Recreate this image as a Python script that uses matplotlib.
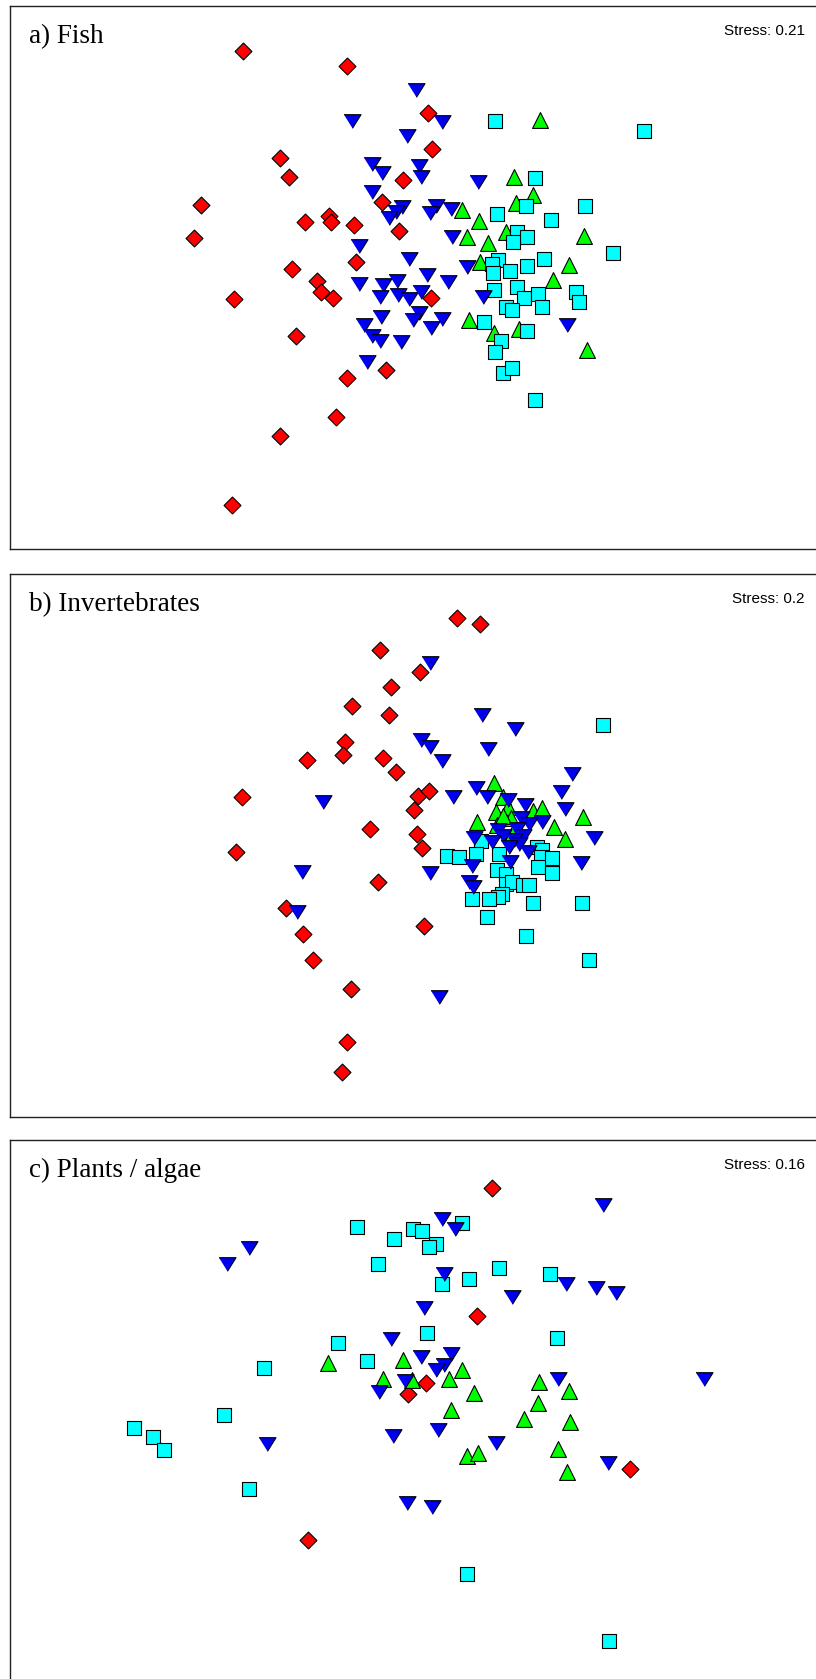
import numpy as np
import matplotlib
matplotlib.use("Agg")
import matplotlib.pyplot as plt

# NMDS ordination scores (axis 1, axis 2) for each group in each panel
# a) Fish
fish_red = [(-1.57, 2.26), (-0.53, 2.11), (0.28, 1.64), (0.32, 1.28), (-1.20, 1.19),
            (-1.11, 1.00), (0.03, 0.97), (-1.99, 0.72), (-0.18, 0.75), (-0.95, 0.55),
            (-0.71, 0.61), (-0.69, 0.55), (-0.46, 0.52), (-0.01, 0.47), (-2.06, 0.39),
            (-0.44, 0.16), (-1.08, 0.09), (-0.83, -0.03), (-0.79, -0.14), (-0.67, -0.20),
            (0.31, -0.20), (-1.66, -0.21), (-1.04, -0.58), (-0.14, -0.92), (-0.53, -1.00),
            (-0.64, -1.39), (-1.20, -1.58), (-1.68, -2.27)]
fish_blue = [(0.16, 1.87), (-0.48, 1.56), (0.42, 1.55), (0.07, 1.41), (-0.28, 1.13),
             (0.19, 1.11), (-0.18, 1.04), (0.21, 1.00), (-0.28, 0.85), (0.02, 0.70),
             (0.36, 0.71), (0.51, 0.68), (0.30, 0.64), (-0.04, 0.65), (-0.11, 0.59),
             (0.52, 0.40), (-0.41, 0.32), (0.09, 0.19), (0.27, 0.03), (0.48, -0.04),
             (-0.41, -0.06), (-0.17, -0.07), (-0.03, -0.03), (-0.20, -0.19), (-0.02, -0.17),
             (0.09, -0.21), (0.21, -0.14), (0.19, -0.35), (0.42, -0.41), (-0.19, -0.39),
             (0.13, -0.42), (0.31, -0.50), (-0.36, -0.47), (-0.28, -0.58), (-0.20, -0.63),
             (0.01, -0.64), (-0.33, -0.84), (0.78, 0.95), (0.67, 0.11), (0.83, -0.19),
             (1.67, -0.47)]
fish_green = [(1.40, 1.57), (1.14, 1.00), (1.33, 0.82), (1.16, 0.74), (0.62, 0.67),
              (0.79, 0.56), (1.06, 0.45), (0.67, 0.41), (0.88, 0.35), (1.84, 0.42),
              (0.80, 0.16), (1.69, 0.13), (1.53, -0.02), (0.69, -0.42), (0.94, -0.55),
              (1.19, -0.51), (1.87, -0.72)]
fish_cyan = [(0.95, 1.56), (2.44, 1.46), (1.35, 0.99), (1.26, 0.71), (1.85, 0.71),
             (0.97, 0.63), (1.51, 0.57), (1.17, 0.45), (1.27, 0.40), (1.13, 0.36),
             (2.13, 0.25), (1.44, 0.19), (0.98, 0.18), (0.92, 0.14), (0.93, 0.05),
             (1.10, 0.07), (1.27, 0.12), (0.94, -0.12), (1.17, -0.09), (1.24, -0.20),
             (1.38, -0.16), (1.42, -0.29), (1.76, -0.14), (1.79, -0.24), (1.06, -0.29),
             (1.12, -0.32), (0.84, -0.44), (1.27, -0.53), (1.01, -0.63), (0.95, -0.74),
             (1.03, -0.95), (1.12, -0.90), (1.35, -1.22)]

# b) Invertebrates
inv_red = [(0.57, 2.27), (0.80, 2.21), (-0.20, 1.95), (0.20, 1.73), (-0.09, 1.58),
           (-0.48, 1.39), (-0.11, 1.30), (-0.55, 1.03), (-0.57, 0.90), (-0.93, 0.85),
           (-0.17, 0.87), (-0.04, 0.73), (-1.58, 0.48), (0.18, 0.49), (0.29, 0.54),
           (0.14, 0.35), (-0.30, 0.16), (0.17, 0.11), (0.22, -0.03), (-1.64, -0.07),
           (-0.22, -0.37), (-1.14, -0.63), (0.24, -0.81), (-0.97, -0.89), (-0.87, -1.15),
           (-0.49, -1.44), (-0.53, -1.97), (-0.58, -2.27)]
inv_blue = [(0.30, 1.82), (0.21, 1.05), (0.30, 0.98), (0.42, 0.84), (0.53, 0.48),
            (-0.77, 0.43), (-0.98, -0.27), (0.30, -0.28), (-1.03, -0.67), (0.39, -1.52),
            (0.82, 1.30), (1.15, 1.16), (0.88, 0.96), (1.72, 0.71), (0.76, 0.57),
            (0.87, 0.48), (1.61, 0.53), (1.08, 0.45), (1.25, 0.40), (1.65, 0.36),
            (1.21, 0.27), (1.42, 0.23), (1.29, 0.21), (0.98, 0.15), (1.17, 0.16),
            (1.03, 0.09), (1.23, 0.09), (1.14, 0.05), (0.92, 0.03), (0.74, 0.07),
            (1.19, 0.01), (1.09, -0.02), (1.28, -0.07), (1.94, 0.07), (1.10, -0.17),
            (0.72, -0.21), (1.81, -0.18), (0.69, -0.37), (0.73, -0.42)]
inv_green = [(0.94, 0.62), (1.03, 0.48), (1.08, 0.38), (0.96, 0.33), (1.33, 0.34),
             (1.42, 0.37), (1.83, 0.28), (0.77, 0.23), (1.11, 0.27), (0.97, 0.20),
             (1.54, 0.18), (1.12, 0.11), (1.65, 0.06), (1.03, 0.29)]
inv_cyan = [(2.03, 1.20), (0.81, 0.04), (0.47, -0.11), (0.59, -0.12), (0.76, -0.09),
            (0.99, -0.09), (1.37, -0.02), (1.42, -0.05), (1.41, -0.12), (1.52, -0.13),
            (1.38, -0.22), (1.52, -0.28), (0.97, -0.25), (1.06, -0.29), (1.06, -0.39),
            (1.12, -0.37), (1.23, -0.40), (1.29, -0.40), (1.02, -0.49), (0.98, -0.52),
            (0.72, -0.54), (0.89, -0.54), (1.33, -0.58), (1.82, -0.58), (0.87, -0.72),
            (1.26, -0.91), (1.89, -1.15)]

# c) Plants / algae
pl_red = [(0.92, 2.23), (0.77, 0.95), (0.26, 0.28), (0.08, 0.17), (2.30, -0.58),
          (-0.92, -1.29)]
pl_blue = [(-1.51, 1.63), (-1.73, 1.47), (-0.09, 0.72), (0.05, 0.30), (-0.21, 0.19),
           (-0.07, -0.25), (-1.33, -0.33), (0.07, -0.92), (0.32, -0.96), (2.03, 2.06),
           (0.42, 1.92), (0.55, 1.82), (0.44, 1.37), (1.66, 1.27), (1.96, 1.23),
           (2.16, 1.18), (1.12, 1.14), (0.24, 1.03), (0.21, 0.54), (0.51, 0.57),
           (0.44, 0.46), (0.36, 0.41), (1.58, 0.32), (3.04, 0.32), (0.38, -0.19),
           (0.96, -0.32), (2.08, -0.52)]
pl_green = [(-0.72, 0.48), (0.03, 0.51), (-0.17, 0.32), (0.12, 0.31), (0.62, 0.41),
            (0.49, 0.32), (1.39, 0.29), (0.74, 0.18), (1.69, 0.20), (1.38, 0.08),
            (0.51, 0.01), (1.24, -0.08), (1.70, -0.11), (1.58, -0.38), (0.67, -0.45),
            (0.78, -0.42), (1.67, -0.61)]
pl_cyan = [(-0.43, 1.84), (-0.06, 1.72), (0.13, 1.82), (-0.22, 1.47), (-0.62, 0.68),
           (-0.33, 0.50), (-1.36, 0.43), (-1.76, -0.04), (-2.66, -0.17), (-2.47, -0.26),
           (-2.36, -0.39), (-1.51, -0.78), (0.22, 1.80), (0.62, 1.88), (0.36, 1.67),
           (0.29, 1.64), (0.99, 1.43), (0.69, 1.32), (0.42, 1.27), (1.50, 1.37),
           (0.27, 0.78), (1.57, 0.73), (0.67, -1.63), (2.09, -2.30)]

titles = ["a) Fish", "b) Invertebrates", "c) Plants / algae"]
stress = ["Stress: 0.21", "Stress: 0.2", "Stress: 0.16"]
panels = [(fish_red, fish_green, fish_cyan, fish_blue),
          (inv_red, inv_green, inv_cyan, inv_blue),
          (pl_red, pl_green, pl_cyan, pl_blue)]

W, H = 816, 1679
fig = plt.figure(figsize=(W / 100, H / 100), dpi=100)

# panel frames in pixels: (top, bottom)
frames = [(6, 549), (574, 1117), (1140, 1681)]
left_px, right_px = 10, 822

tri = [(-1, 0.8), (1, 0.8), (0, -0.8)]
styles = [dict(marker="D", c="#ff0000", s=74),
          dict(marker="^", c="#00ff00", s=130),
          dict(marker="s", c="#00ffff", s=100),
          dict(marker=tri, c="#0000f0", s=150)]

for i, (top, bot) in enumerate(frames):
    ax = fig.add_axes([left_px / W, 1 - bot / H, (right_px - left_px) / W, (bot - top) / H])
    ax.set_xlim((left_px - 400) / 100, (right_px - 400) / 100)
    ax.set_ylim(-(bot - top) / 200, (bot - top) / 200)
    for pts, st in zip(panels[i], styles):
        arr = np.array(pts)
        ax.scatter(arr[:, 0], arr[:, 1], edgecolors="black", linewidths=0.8, zorder=3, **st)
    ax.set_xticks([])
    ax.set_yticks([])
    for sp in ax.spines.values():
        sp.set_linewidth(1.0)
        sp.set_color("#222222")
    fig.text((left_px + 19) / W, 1 - (top + 37) / H, titles[i],
             family="Liberation Serif", fontsize=19.5, va="baseline", ha="left")
    fig.text(805 / W, 1 - (top + 29) / H, stress[i],
             family="Liberation Sans", fontsize=11, va="baseline", ha="right")

fig.savefig("out.png", dpi=100, facecolor="white")
